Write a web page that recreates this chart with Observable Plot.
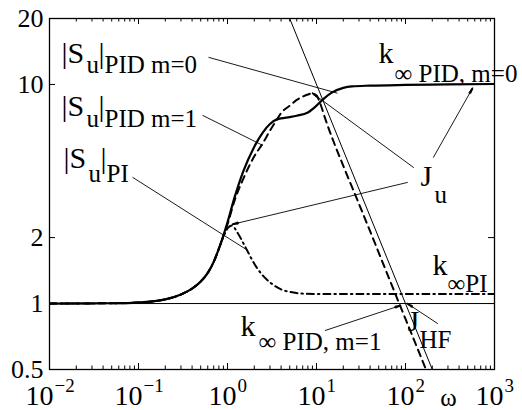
<!DOCTYPE html>
<html><head><meta charset="utf-8">
<script src="https://cdn.jsdelivr.net/npm/d3@7"></script>
<script src="https://cdn.jsdelivr.net/npm/@observablehq/plot@0.6"></script>
<style>body{margin:0;background:#fff}</style>
</head><body><div id="chart"></div>
<script>
// ---- data ----
const omegaSolid = [0.01,0.05,0.1,0.15,0.2,0.3,0.4,0.5,0.6,0.7,0.8,0.9,1.0,1.2,1.5,2.0,2.5,3.0,3.5,4,5,6,8,10,12,15,20,25,40,100,300,1000];
const suPIDm0 = [1.0,1.003,1.01,1.025,1.045,1.1,1.17,1.26,1.38,1.55,1.78,2.05,2.35,3.05,4.0,5.2,6.05,6.6,6.9,7.0,7.1,7.2,7.45,8.0,8.6,9.2,9.65,9.8,9.88,9.95,10.0,10.05];

const omegaM1 = [0.01,0.05,0.1,0.15,0.2,0.3,0.4,0.5,0.6,0.7,0.8,0.9,1.0,1.2,1.5,2.0,2.5,3.0,3.5,4,5,6,7,8,8.9,10,11,12.5,15,20,30,45,65,85,120,170,185];
const suPIDm1 = [1.0,1.003,1.01,1.025,1.045,1.1,1.17,1.26,1.38,1.55,1.78,2.03,2.3,2.95,3.7,4.7,5.4,6.15,6.8,7.4,8.0,8.5,8.8,9.0,9.1,8.9,8.2,7.0,5.7,4.25,2.85,1.9,1.31,1.0,0.71,0.5,0.46];

const omegaPI = [0.01,0.05,0.1,0.15,0.2,0.3,0.4,0.5,0.6,0.7,0.8,0.9,1.0,1.12,1.3,1.6,2.0,2.5,3.0,4.0,5.0,7.0,10,100,1000];
const suPI = [1.0,1.003,1.01,1.025,1.045,1.1,1.17,1.26,1.38,1.55,1.78,2.02,2.2,2.27,2.1,1.8,1.52,1.34,1.25,1.16,1.13,1.11,1.105,1.105,1.105];

const omegaHF = [5, 200];
const jHF = [20, 0.5];

const unity = [1];

const xMajor = [0.01, 0.1, 1, 10, 100, 1000];
const xExpNeg = [0.01, 0.1];
const xExpPos = [1, 10, 100, 1000];
const xMinor = [0.01,0.1,1,10,100].flatMap(d => [2,3,4,5,6,7,8,9].map(k => k*d));
const yTicks = [0.5, 1, 2, 10, 20];

// annotations [text, omega, value]
const mainLabels = [
  ["|S", 0.01364, 12.50], ["|", 0.03553, 12.50],
  ["|S", 0.01364, 7.155], ["|", 0.03553, 7.155],
  ["|S", 0.01437, 4.141], ["|", 0.03741, 4.141],
  ["k", 49.74, 12.50],
  ["J", 147.4, 3.428],
  ["k", 201.1, 1.344],
  ["k", 1.400, 0.7146],
  ["J", 105.3, 0.7456]
];
const subLabels = [
  ["u", 0.02604, 11.25], ["PID m=0", 0.04150, 11.25],
  ["u", 0.02604, 6.376], ["PID m=1", 0.04150, 6.376],
  ["u", 0.02742, 3.574], ["PI", 0.04370, 3.574],
  ["\u221E PID, m=0", 75.2, 10.23],
  ["u", 211.8, 2.867],
  ["\u221EPI", 296.4, 1.124],
  ["\u221E PID, m=1", 2.230, 0.6107],
  ["HF", 143.7, 0.6236]
];
// leader lines [x1,y1,x2,y2]
const leaders = [
  [0.612, 13.3, 17.2, 9.12],
  [0.524, 7.23, 2.47, 5.28],
  [0.0857, 3.77, 1.68, 1.75]
];
// arrows [x1,y1,x2,y2]
const arrows = [
  [123, 4.18, 9.02, 9.12],
  [206, 4.65, 566, 9.61],
  [105, 3.57, 1.14, 2.30],
  [12.6, 0.754, 87.9, 0.98],
  [229, 0.811, 105, 1.0]
];

const FONT = "Liberation Serif";
const W = 522, H = 410, ML = 49, MR = 28, MT = 18, MB = 41;
const FW = W - ML - MR, FH = H - MT - MB;
const xDom = [0.01, 1000], yDom = [0.5, 20];
const kx = FW / Math.log10(xDom[1] / xDom[0]);
const ky = FH / Math.log10(yDom[1] / yDom[0]);
// short segments near each arrow tip, drawn thicker so the heads look solid
const heads = arrows.map(([x1, y1, x2, y2]) => {
  const lx = Math.log10(x2 / x1), ly = Math.log10(y2 / y1);
  const L = Math.hypot(lx * kx, ly * ky);
  const t = 1 - 6 / L;
  return [x1 * Math.pow(10, lx * t), y1 * Math.pow(10, ly * t), x2, y2];
});
const expText = d => String(Math.round(Math.log10(d))).replace("-", "\u2212");

const chart = Plot.plot({
  width: W, height: H,
  marginLeft: ML, marginRight: MR, marginTop: MT, marginBottom: MB,
  x: {type: "log", domain: xDom, axis: null},
  y: {type: "log", domain: yDom, axis: null},
  style: {background: "white", overflow: "visible"},
  marks: [
    Plot.ruleY(unity, {stroke: "black", strokeWidth: 1}),
    Plot.line(omegaHF, {x: omegaHF, y: jHF, stroke: "black", strokeWidth: 1, clip: true}),
    Plot.line(omegaPI, {x: omegaPI, y: suPI, stroke: "black", strokeWidth: 2, strokeDasharray: "7,4,1.5,4", curve: "monotone-x", clip: true}),
    Plot.line(omegaM1, {x: omegaM1, y: suPIDm1, stroke: "black", strokeWidth: 2, strokeDasharray: "7,5", curve: "monotone-x", clip: true}),
    Plot.line(omegaSolid, {x: omegaSolid, y: suPIDm0, stroke: "black", strokeWidth: 2.2, curve: "monotone-x", clip: true}),
    Plot.link(leaders, {x1: d => d[0], y1: d => d[1], x2: d => d[2], y2: d => d[3], stroke: "black", strokeWidth: 0.9}),
    Plot.arrow(arrows, {x1: d => d[0], y1: d => d[1], x2: d => d[2], y2: d => d[3], stroke: "black", strokeWidth: 0.9, headLength: 9, headAngle: 24}),
    Plot.arrow(heads, {x1: d => d[0], y1: d => d[1], x2: d => d[2], y2: d => d[3], stroke: "black", strokeWidth: 1.6, headLength: 8, headAngle: 18}),
    // ticks
    Plot.tickX(xMajor, {x: d => d, insetTop: FH - 6, stroke: "black"}),
    Plot.tickX(xMajor, {x: d => d, insetBottom: FH - 6, stroke: "black"}),
    Plot.tickX(xMinor, {x: d => d, insetTop: FH - 3.5, stroke: "black"}),
    Plot.tickX(xMinor, {x: d => d, insetBottom: FH - 3.5, stroke: "black"}),
    Plot.tickY(yTicks, {y: d => d, insetRight: FW - 6, stroke: "black"}),
    Plot.tickY(yTicks, {y: d => d, insetLeft: FW - 6, stroke: "black"}),
    Plot.frame({stroke: "black", strokeWidth: 1.3}),
    // tick labels
    Plot.text(yTicks, {y: d => d, frameAnchor: "left", text: d => String(d), textAnchor: "end", dx: -6, fontSize: 26, fontFamily: FONT, fill: "black"}),
    Plot.text(xExpNeg, {x: d => d, frameAnchor: "bottom", text: () => "10", textAnchor: "end", lineAnchor: "bottom", dx: 4, dy: 35, fontSize: 28, fontFamily: FONT, fill: "black"}),
    Plot.text(xExpNeg, {x: d => d, frameAnchor: "bottom", text: expText, textAnchor: "start", lineAnchor: "bottom", dx: 5, dy: 22, fontSize: 19, fontFamily: FONT, fill: "black"}),
    Plot.text(xExpPos, {x: d => d, frameAnchor: "bottom", text: () => "10", textAnchor: "end", lineAnchor: "bottom", dx: 9, dy: 35, fontSize: 28, fontFamily: FONT, fill: "black"}),
    Plot.text(xExpPos, {x: d => d, frameAnchor: "bottom", text: expText, textAnchor: "start", lineAnchor: "bottom", dx: 10, dy: 22, fontSize: 19, fontFamily: FONT, fill: "black"}),
    Plot.text(["\u03C9"], {frameAnchor: "bottom-right", text: d => d, textAnchor: "middle", lineAnchor: "bottom", dx: -46, dy: 36, fontSize: 25, fontFamily: FONT, fill: "black"}),
    // annotations
    Plot.text(mainLabels, {x: d => d[1], y: d => d[2], text: d => d[0], textAnchor: "start", lineAnchor: "bottom", fontSize: 30, fontFamily: FONT, fill: "black"}),
    Plot.text(subLabels, {x: d => d[1], y: d => d[2], text: d => d[0], textAnchor: "start", lineAnchor: "bottom", fontSize: 25, fontFamily: FONT, fill: "black"})
  ]
});
document.getElementById("chart").append(chart);
</script></body></html>
